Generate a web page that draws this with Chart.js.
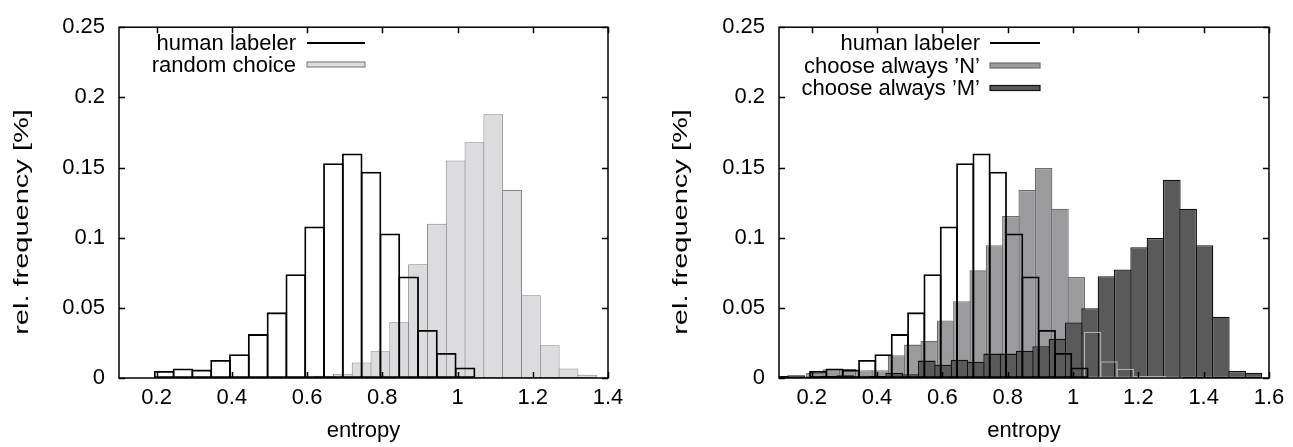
<!DOCTYPE html>
<html>
<head>
<meta charset="utf-8">
<script src="https://cdn.jsdelivr.net/npm/chart.js@4.4.1/dist/chart.umd.min.js"></script>
<style>
body { margin: 0; background: #fff; }
#wrap { position: relative; width: 1293px; height: 447px; }
canvas { position: absolute; top: 0; }
#left { left: 0; }
#right { left: 646px; }
</style>
</head>
<body>
<div id="wrap">
<canvas id="left" width="646" height="447"></canvas>
<canvas id="right" width="647" height="447"></canvas>
</div>
<script>
// valores (centro de cada barra, frecuencia relativa)
var humanX = [0.22, 0.27, 0.32, 0.37, 0.42, 0.47, 0.52, 0.57, 0.62, 0.67, 0.72, 0.77, 0.82, 0.87, 0.92, 0.97, 1.02];
var humanY = [0.005, 0.0068, 0.006, 0.0128, 0.0169, 0.0313, 0.0468, 0.074, 0.108, 0.153, 0.160, 0.147, 0.103, 0.0724, 0.0342, 0.0178, 0.0075];

var randomX = [0.645, 0.695, 0.745, 0.795, 0.845, 0.895, 0.945, 0.995, 1.045, 1.095, 1.145, 1.195, 1.245, 1.295, 1.345];
var randomY = [0.0016, 0.003, 0.011, 0.019, 0.0397, 0.081, 0.110, 0.155, 0.168, 0.188, 0.134, 0.059, 0.0233, 0.0068, 0.0023];

var nX = [0.21, 0.26, 0.31, 0.36, 0.41, 0.46, 0.51, 0.56, 0.61, 0.66, 0.71, 0.76, 0.81, 0.86, 0.91, 0.96, 1.01, 1.06, 1.11, 1.16, 1.21, 1.26, 1.31];
var nY = [0.0037, 0.0062, 0.0064, 0.0055, 0.0055, 0.0163, 0.0238, 0.0266, 0.041, 0.0547, 0.0767, 0.0946, 0.1154, 0.1341, 0.1497, 0.1207, 0.0719, 0.033, 0.0119, 0.0066, 0.0014, 0.0014, 0.0007];

var mX = [0.1025, 0.1525, 0.2025, 0.2525, 0.3025, 0.3525, 0.4025, 0.4525, 0.5025, 0.5525, 0.6025, 0.6525, 0.7025, 0.7525, 0.8025,
          0.8525, 0.9025, 0.9525, 1.0025, 1.0525, 1.1025, 1.1525, 1.2025, 1.2525, 1.3025, 1.3525, 1.4025, 1.4525, 1.5025, 1.5525];
var mY = [0.0015, 0.002, 0.001, 0.0014, 0.002, 0.001, 0.0014, 0.0037, 0.0027, 0.0124, 0.0094, 0.013, 0.0116, 0.0174, 0.0174,
          0.0195, 0.0227, 0.028, 0.0396, 0.0497, 0.0726, 0.0774, 0.0932, 0.0998, 0.1413, 0.1207, 0.0946, 0.0437, 0.005, 0.0037];

var leftXTicks = [0.2, 0.4, 0.6, 0.8, 1, 1.2, 1.4];
var rightXTicks = [0.2, 0.4, 0.6, 0.8, 1, 1.2, 1.4, 1.6];
var yTicks = [0, 0.05, 0.1, 0.15, 0.2, 0.25];

var humanLabel = "human labeler";
var randomLabel = "random choice";
var nLabel = "choose always \u2019N\u2019";
var mLabel = "choose always \u2019M\u2019";
var xTitle = "entropy";
var yTitle = "rel. frequency [%]";

var FONT = "'Liberation Sans', Arial, Helvetica, sans-serif";
var FSIZE = 22;

function pts(xs, ys) {
    return xs.map(function (x, i) { return { x: x, y: ys[i] }; });
}

function fmt(v) {
    return String(Math.round(v * 100) / 100);
}

// estilo de barras tipo gnuplot: el borde queda centrado en el limite del bin
function bars(label, xs, ys, axis, fill, stroke, bw, binPx) {
    return {
        label: label, data: pts(xs, ys), xAxisID: axis,
        backgroundColor: fill, borderColor: stroke, borderWidth: bw,
        borderSkipped: false, inflateAmount: 0, grouped: false,
        categoryPercentage: 1, barPercentage: 1 + bw / binPx
    };
}

function hiddenX(min, max) {
    return { type: 'linear', min: min, max: max, offset: false, display: false };
}

// marco, ticks hacia adentro, leyenda y titulos de ejes
var gnuFrame = {
    id: 'gnuFrame',
    afterDatasetsDraw: function (chart, args, o) {
        var a = chart.chartArea, ctx = chart.ctx;
        var sx = chart.scales.x, sy = chart.scales.y;
        ctx.save();
        ctx.strokeStyle = '#000';
        ctx.lineWidth = 1.5;
        ctx.beginPath();
        sx.ticks.forEach(function (t) {
            var p = Math.round(sx.getPixelForValue(t.value)) + 0.5;
            ctx.moveTo(p, a.bottom); ctx.lineTo(p, a.bottom - 6);
            ctx.moveTo(p, a.top); ctx.lineTo(p, a.top + 6);
        });
        sy.ticks.forEach(function (t) {
            var p = Math.round(sy.getPixelForValue(t.value)) + 0.5;
            ctx.moveTo(a.left, p); ctx.lineTo(a.left + 6, p);
            ctx.moveTo(a.right, p); ctx.lineTo(a.right - 6, p);
        });
        ctx.stroke();
        ctx.strokeRect(a.left, a.top, a.right - a.left, a.bottom - a.top);

        // leyenda
        ctx.font = FSIZE + 'px ' + FONT;
        ctx.textAlign = 'right';
        ctx.textBaseline = 'middle';
        o.items.forEach(function (it, i) {
            var y = o.y0 + i * o.dy;
            ctx.fillStyle = '#000';
            ctx.fillText(it.text, o.textRight, y + 1);
            if (it.type === 'line') {
                ctx.lineWidth = 1.8;
                ctx.strokeStyle = '#000';
                ctx.beginPath();
                ctx.moveTo(o.s0, y); ctx.lineTo(o.s1, y);
                ctx.stroke();
            } else {
                ctx.fillStyle = it.fill;
                ctx.fillRect(o.s0, y - 2.5, o.s1 - o.s0, 5);
                ctx.lineWidth = 1.2;
                ctx.strokeStyle = it.stroke;
                ctx.strokeRect(o.s0, y - 2.5, o.s1 - o.s0, 5);
            }
        });

        // titulos
        ctx.fillStyle = '#000';
        ctx.textAlign = 'center';
        ctx.fillText(xTitle, (a.left + a.right) / 2, o.xTitleY);
        ctx.font = o.yTitleSize + 'px ' + FONT;
        ctx.translate(o.yTitleX, o.yTitleY);
        ctx.rotate(-Math.PI / 2);
        ctx.scale(o.yTitleStretch, 1);
        ctx.fillText(yTitle, 0, 0);
        ctx.restore();
    }
};

function makeChart(id, cfg) {
    return new Chart(document.getElementById(id), {
        type: 'bar',
        data: { datasets: cfg.datasets },
        options: {
            responsive: false,
            animation: false,
            devicePixelRatio: 1,
            layout: { padding: { left: 0, right: cfg.padRight, top: 14, bottom: 0 } },
            scales: Object.assign({
                x: {
                    type: 'linear', min: cfg.xmin, max: cfg.xmax, offset: false,
                    afterBuildTicks: function (s) { s.ticks = cfg.xTicks.map(function (v) { return { value: v }; }); },
                    afterFit: function (s) { s.height = 69; },
                    grid: { display: false, drawTicks: false },
                    border: { display: false },
                    ticks: { padding: 7, color: '#000', maxRotation: 0, autoSkip: false, font: { family: FONT, size: FSIZE }, callback: fmt }
                },
                y: {
                    type: 'linear', min: 0, max: 0.25, position: 'left',
                    afterBuildTicks: function (s) { s.ticks = yTicks.map(function (v) { return { value: v }; }); },
                    afterFit: function (s) { s.width = cfg.yWidth; },
                    grid: { display: false, drawTicks: false },
                    border: { display: false },
                    ticks: { padding: 14, color: '#000', font: { family: FONT, size: FSIZE }, callback: fmt }
                }
            }, cfg.extraScales),
            plugins: {
                legend: { display: false },
                tooltip: { enabled: false },
                gnuFrame: cfg.frame
            }
        },
        plugins: [gnuFrame]
    });
}

// grafico izquierdo: humano vs eleccion aleatoria
var binL = 0.05 * 489 / 1.3;
makeChart('left', {
    xmin: 0.1, xmax: 1.4, xTicks: leftXTicks, yWidth: 119, padRight: 38,
    extraScales: { xr: hiddenX(0.1, 1.4) },
    datasets: [
        bars(humanLabel, humanX, humanY, 'x', 'rgba(0,0,0,0)', '#000', 1.8, binL),
        bars(randomLabel, randomX, randomY, 'xr', '#dcdbdd', '#858585', 1, binL)
    ],
    frame: {
        textRight: 296, s0: 307, s1: 365, y0: 43, dy: 21.5,
        xTitleY: 431, yTitleX: 22, yTitleY: 222, yTitleSize: 20, yTitleStretch: 1.45,
        items: [
            { text: humanLabel, type: 'line' },
            { text: randomLabel, type: 'box', fill: '#dcdbdd', stroke: '#858585' }
        ]
    }
});

// grafico derecho: humano vs 'N' y 'M'
var binR = 0.05 * 490 / 1.5;
function nEdgeColor(c) { // borde de 'N' que se ve encima de 'M'
    var i = c.dataIndex, best = 0;
    for (var j = 1; j < mX.length; j++) {
        if (Math.abs(mX[j] - nX[i]) < Math.abs(mX[best] - nX[i])) best = j;
    }
    return mY[best] > nY[i] ? '#adadad' : 'rgba(0,0,0,0)';
}
var nEdge = bars('', nX, nY, 'xn', 'rgba(0,0,0,0)', '#adadad', 1.3, binR);
nEdge.borderColor = nEdgeColor;

makeChart('right', {
    xmin: 0.1, xmax: 1.6, xTicks: rightXTicks, yWidth: 133, padRight: 24,
    extraScales: { xn: hiddenX(0.1, 1.6), xm: hiddenX(0.1, 1.6) },
    datasets: [
        bars(humanLabel, humanX, humanY, 'x', 'rgba(0,0,0,0)', '#000', 1.8, binR),
        nEdge,
        bars(mLabel, mX, mY, 'xm', '#5a5a5a', '#111', 1.3, binR),
        bars(nLabel, nX, nY, 'xn', '#9b9a9c', '#6e6e6e', 1.3, binR)
    ],
    frame: {
        textRight: 334, s0: 344, s1: 394, y0: 43, dy: 22.5,
        xTitleY: 431, yTitleX: 35, yTitleY: 222, yTitleSize: 20, yTitleStretch: 1.45,
        items: [
            { text: humanLabel, type: 'line' },
            { text: nLabel, type: 'box', fill: '#9b9a9c', stroke: '#6e6e6e' },
            { text: mLabel, type: 'box', fill: '#5a5a5a', stroke: '#111' }
        ]
    }
});
</script>
</body>
</html>
